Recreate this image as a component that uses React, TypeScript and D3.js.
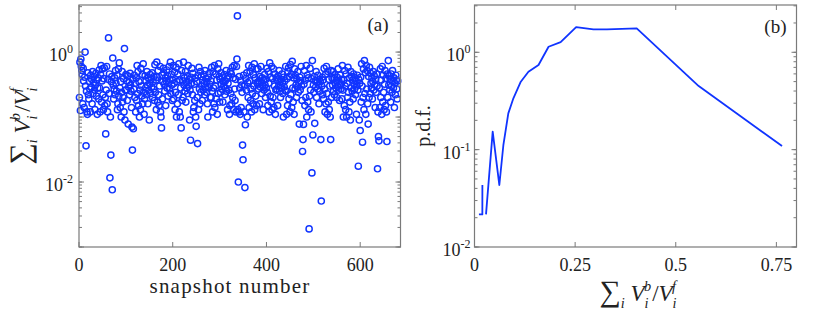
import React from 'react';
import * as d3 from 'd3';

// panel (a): ratio per snapshot, snapshot = index + 1
const snapshotRatio = [
  0.2, 0.7, 0.126, 0.78, 0.6, 0.52, 0.45, 0.16, 0.56, 0.36, 0.14, 0.41, 1.0, 0.3, 0.036, 0.25, 0.12, 0.11, 0.48, 0.22,
  0.19, 0.35, 0.27, 0.12, 0.44, 0.29, 0.38, 0.16, 0.5, 0.23, 0.34, 0.42, 0.26, 0.13, 0.31, 0.47, 0.21, 0.37, 0.11, 0.28,
  0.4, 0.19, 0.53, 0.28, 0.12, 0.45, 0.62, 0.17, 0.36, 0.55, 0.22, 0.13, 0.39, 0.57, 0.15, 0.2, 0.055, 0.26, 0.6, 0.16,
  0.12, 0.38, 1.65, 0.23, 0.46, 0.0116, 0.1, 0.026, 0.35, 0.42, 0.0076, 0.81, 0.31, 0.19, 0.27, 0.4, 0.22, 0.52, 0.33, 0.25,
  0.44, 0.13, 0.16, 0.55, 0.21, 0.68, 0.28, 0.14, 0.35, 0.1, 0.24, 0.5, 0.17, 0.2, 0.39, 0.12, 1.13, 0.09, 0.26, 0.45,
  0.26, 0.36, 0.18, 0.43, 0.078, 0.29, 0.34, 0.22, 0.47, 0.31, 0.25, 0.14, 0.07, 0.031, 0.38, 0.066, 0.27, 0.44, 0.2, 0.33,
  0.12, 0.4, 0.18, 0.62, 0.23, 0.5, 0.15, 0.35, 0.1, 0.26, 0.13, 0.56, 0.3, 0.21, 0.45, 0.16, 0.66, 0.24, 0.11, 0.19,
  0.43, 0.28, 0.36, 0.22, 0.5, 0.31, 0.16, 0.4, 0.26, 0.09, 0.33, 0.45, 0.23, 0.38, 0.29, 0.48, 0.2, 0.35, 0.27, 0.42,
  0.18, 0.64, 0.24, 0.37, 0.13, 0.7, 0.41, 0.17, 0.52, 0.22, 0.15, 0.3, 0.6, 0.12, 0.1, 0.068, 0.44, 0.19, 0.35, 0.56,
  0.48, 0.32, 0.25, 0.4, 0.15, 0.36, 0.53, 0.28, 0.43, 0.21, 0.34, 0.6, 0.27, 0.38, 0.7, 0.23, 0.45, 0.31, 0.18, 0.37,
  0.62, 0.19, 0.33, 0.49, 0.13, 0.24, 0.58, 0.1, 0.35, 0.16, 0.46, 0.22, 0.66, 0.12, 0.37, 0.1, 0.28, 0.068, 0.52, 0.18,
  0.36, 0.2, 0.7, 0.31, 0.4, 0.25, 0.5, 0.17, 0.34, 0.28, 0.43, 0.23, 0.62, 0.3, 0.38, 0.09, 0.26, 0.044, 0.41, 0.33,
  0.56, 0.22, 0.47, 0.12, 0.14, 0.32, 0.18, 0.4, 0.1, 0.072, 0.35, 0.2, 0.039, 0.44, 0.13, 0.58, 0.27, 0.16, 0.5, 0.24,
  0.42, 0.3, 0.18, 0.37, 0.26, 0.45, 0.33, 0.22, 0.52, 0.29, 0.39, 0.24, 0.35, 0.16, 0.1, 0.41, 0.28, 0.47, 0.32, 0.2,
  0.36, 0.2, 0.58, 0.25, 0.12, 0.5, 0.28, 0.16, 0.62, 0.14, 0.3, 0.46, 0.19, 0.37, 0.11, 0.55, 0.23, 0.66, 0.42, 0.17,
  0.38, 0.24, 0.48, 0.32, 0.27, 0.41, 0.17, 0.35, 0.3, 0.45, 0.22, 0.36, 0.28, 0.52, 0.25, 0.39, 0.13, 0.33, 0.43, 0.26,
  0.11, 0.15, 0.5, 0.23, 0.46, 0.16, 0.58, 0.2, 0.4, 0.13, 0.62, 0.27, 0.18, 0.38, 0.12, 0.6, 0.78, 3.6, 0.13, 0.01,
  0.12, 0.42, 0.28, 0.11, 0.36, 0.14, 0.31, 0.24, 0.037, 0.022, 0.44, 0.12, 0.3, 0.0082, 0.076, 0.39, 0.26, 0.48, 0.1, 0.34,
  0.2, 0.62, 0.14, 0.36, 0.5, 0.18, 0.27, 0.12, 0.58, 0.23, 0.16, 0.45, 0.3, 0.66, 0.13, 0.4, 0.21, 0.55, 0.15, 0.34,
  0.32, 0.55, 0.27, 0.36, 0.16, 0.42, 0.29, 0.6, 0.34, 0.23, 0.4, 0.3, 0.13, 0.37, 0.26, 0.45, 0.31, 0.2, 0.38, 0.28,
  0.56, 0.24, 0.15, 0.5, 0.33, 0.12, 0.68, 0.21, 0.41, 0.17, 0.6, 0.13, 0.39, 0.2, 0.55, 0.14, 0.3, 0.46, 0.11, 0.26,
  0.4, 0.27, 0.37, 0.15, 0.43, 0.3, 0.52, 0.25, 0.35, 0.2, 0.38, 0.28, 0.46, 0.33, 0.23, 0.1, 0.41, 0.29, 0.36, 0.26,
  0.6, 0.25, 0.11, 0.39, 0.15, 0.5, 0.57, 0.19, 0.42, 0.12, 0.64, 0.22, 0.45, 0.14, 0.72, 0.28, 0.17, 0.4, 0.11, 0.55,
  0.27, 0.44, 0.31, 0.2, 0.38, 0.29, 0.5, 0.24, 0.34, 0.078, 0.41, 0.26, 0.36, 0.6, 0.3, 0.18, 0.0295, 0.045, 0.077, 0.32,
  0.52, 0.15, 0.37, 0.2, 0.62, 0.1, 0.44, 0.17, 0.4, 0.13, 0.0019, 0.21, 0.56, 0.26, 0.12, 0.39, 0.0138, 0.74, 0.053, 0.31,
  0.24, 0.42, 0.08, 0.36, 0.29, 0.5, 0.2, 0.34, 0.27, 0.44, 0.31, 0.16, 0.38, 0.25, 0.35, 0.045, 0.0051, 0.3, 0.41, 0.22,
  0.37, 0.19, 0.56, 0.27, 0.12, 0.45, 0.16, 0.6, 0.23, 0.11, 0.5, 0.17, 0.38, 0.13, 0.3, 0.1, 0.045, 0.52, 0.2, 0.4,
  0.31, 0.5, 0.25, 0.39, 0.22, 0.45, 0.33, 0.28, 0.36, 0.2, 0.41, 0.3, 0.55, 0.26, 0.35, 0.18, 0.44, 0.32, 0.27, 0.38,
  0.19, 0.62, 0.26, 0.1, 0.37, 0.15, 0.52, 0.3, 0.13, 0.46, 0.1, 0.33, 0.2, 0.58, 0.24, 0.12, 0.4, 0.17, 0.09, 0.5,
  0.28, 0.42, 0.25, 0.37, 0.19, 0.46, 0.32, 0.27, 0.4, 0.22, 0.35, 0.11, 0.3, 0.44, 0.26, 0.0175, 0.38, 0.09, 0.33, 0.062,
  0.41, 0.17, 0.66, 0.3, 0.041, 0.2, 0.55, 0.13, 0.74, 0.23, 0.48, 0.11, 0.62, 0.27, 0.52, 0.16, 0.078, 0.42, 0.2, 0.58,
  0.23, 0.47, 0.33, 0.28, 0.4, 0.19, 0.35, 0.5, 0.26, 0.43, 0.31, 0.14, 0.38, 0.24, 0.46, 0.3, 0.016, 0.12, 0.05, 0.043,
  0.28, 0.14, 0.55, 0.2, 0.37, 0.11, 0.6, 0.17, 0.44, 0.24, 0.13, 0.32, 0.52, 0.15, 0.39, 0.12, 0.042, 0.46, 0.2, 0.74,
  0.31, 0.43, 0.26, 0.38, 0.17, 0.46, 0.3, 0.24, 0.52, 0.35, 0.28, 0.4, 0.14, 0.33, 0.22, 0.44, 0.37, 0.27, 0.19, 0.36,
];

// panel (b): p.d.f., a 0 means an empty bin (gap on the log axis)
const pdfX = [0.011, 0.0195, 0.0196, 0.024, 0.0286, 0.0452, 0.0617, 0.0717, 0.084, 0.0966, 0.115, 0.134, 0.159, 0.184, 0.214, 0.2525, 0.2955, 0.329, 0.403, 0.557, 0.764];
const pdfY = [0.0216, 0.0216, 0.0433, 0, 0.0216, 0.153, 0.0433, 0.111, 0.236, 0.337, 0.499, 0.632, 0.74, 1.14, 1.27, 1.81, 1.72, 1.72, 1.76, 0.45, 0.109];

const xTicksA = [0, 200, 400, 600];
const yMajorA = [1e-3, 1e-2, 1e-1, 1];
const yLabelsA = [-2, 0];
const xTicksB = [0, 0.25, 0.5, 0.75];
const xTickLabelsB = ['0', '0.25', '0.5', '0.75'];
const yMajorB = [1e-2, 1e-1, 1];
const yLabelsB = [-2, -1, 0];

const BLUE = '#1034ff';
const AXIS = '#7a7a7a';
const FONT = '"Liberation Serif", "Times New Roman", "DejaVu Serif", serif';

function minorTicks(lo: number, hi: number) {
  const out: number[] = [];
  for (let e = Math.floor(Math.log10(lo)); e < Math.ceil(Math.log10(hi)); e++) {
    for (let k = 1; k < 10; k++) {
      const v = k * Math.pow(10, e);
      if (v >= lo && v <= hi) out.push(v);
    }
  }
  return out;
}

function MathLabel({ size }: { size: number }) {
  const s = size * 0.62;
  return (
    <>
      <tspan fontSize={size * 1.3}>∑</tspan>
      <tspan fontSize={s} fontStyle="italic" dy={size * 0.3}>i</tspan>
      <tspan fontStyle="italic" dy={-size * 0.3} dx={size * 0.25}>V</tspan>
      <tspan fontSize={s} fontStyle="italic" dy={size * 0.3}>i</tspan>
      <tspan fontSize={s} fontStyle="italic" dy={-size * 0.72} dx={-size * 0.2}>b</tspan>
      <tspan dy={size * 0.42} dx={size * 0.05}>/</tspan>
      <tspan fontStyle="italic">V</tspan>
      <tspan fontSize={s} fontStyle="italic" dy={size * 0.3}>i</tspan>
      <tspan fontSize={s} fontStyle="italic" dy={-size * 0.72} dx={-size * 0.2}>f</tspan>
    </>
  );
}

type Frame = { x0: number; x1: number; y0: number; y1: number };

function Box({ f, xs, ys, xScale, yScale, minor }: any) {
  const maj = 5;
  const mnr = 3;
  return (
    <g stroke={AXIS} strokeWidth={1} fill="none">
      {xs.map((v: number) => {
        const x = xScale(v);
        return (
          <g key={'x' + v}>
            <line x1={x} x2={x} y1={f.y1} y2={f.y1 - maj} />
            <line x1={x} x2={x} y1={f.y0} y2={f.y0 + maj} />
          </g>
        );
      })}
      {ys.map((v: number) => {
        const y = yScale(v);
        return (
          <g key={'y' + v}>
            <line x1={f.x0} x2={f.x0 + maj} y1={y} y2={y} />
            <line x1={f.x1} x2={f.x1 - maj} y1={y} y2={y} />
          </g>
        );
      })}
      {minor.map((v: number, i: number) => {
        const y = yScale(v);
        return (
          <g key={'m' + i}>
            <line x1={f.x0} x2={f.x0 + mnr} y1={y} y2={y} />
            <line x1={f.x1} x2={f.x1 - mnr} y1={y} y2={y} />
          </g>
        );
      })}
      <rect x={f.x0} y={f.y0} width={f.x1 - f.x0} height={f.y1 - f.y0} strokeWidth={1.2} />
    </g>
  );
}

export default function App() {
  const fa: Frame = { x0: 79, x1: 400.5, y0: 5, y1: 247 };
  const fb: Frame = { x0: 474.5, x1: 796.5, y0: 5, y1: 247 };

  const xa = d3.scaleLinear().domain([0, 686]).range([fa.x0, fa.x1]);
  const ya = d3.scaleLog().domain([1e-3, 5.3]).range([fa.y1, fa.y0]);
  const xb = d3.scaleLinear().domain([0, 0.8]).range([fb.x0, fb.x1]);
  const yb = d3.scaleLog().domain([1e-2, 3.06]).range([fb.y1, fb.y0]);

  const pdf = pdfX.map((x, i) => ({ x, y: pdfY[i] }));
  const line = d3
    .line<{ x: number; y: number }>()
    .defined((d) => d.y > 0)
    .x((d) => xb(d.x))
    .y((d) => yb(d.y));

  const tickSize = 18;
  const supSize = 12;

  return (
    <svg width={814} height={314} style={{ position: 'absolute', left: 0, top: 0, background: '#fff' }}>
      {/* panel (a) */}
      <g>
        {snapshotRatio.map((v, i) => (
          <circle key={i} cx={xa(i + 1)} cy={ya(v)} r={3.1} fill="none" stroke={BLUE} strokeWidth={1.45} />
        ))}
      </g>
      <Box f={fa} xs={xTicksA} ys={yMajorA} xScale={xa} yScale={ya} minor={minorTicks(1e-3, 5.3)} />
      <g fontSize={tickSize} fill="#222" fontFamily={FONT}>
        {xTicksA.map((v) => (
          <text key={v} x={xa(v)} y={271} textAnchor="middle">{v}</text>
        ))}
        {yLabelsA.map((e) => (
          <text key={e} x={fa.x0 - 6} y={ya(Math.pow(10, e)) + 9} textAnchor="end">
            10<tspan fontSize={supSize} dy={-8}>{e}</tspan>
          </text>
        ))}
        <text x={230} y={293} textAnchor="middle" fontSize={21} letterSpacing={1.2}>snapshot number</text>
        <text x={fa.x1 - 12} y={31} textAnchor="end" fontSize={19}>(a)</text>
        <text transform={`translate(30,${(fa.y0 + fa.y1) / 2}) rotate(-90)`} textAnchor="middle" fontSize={23}>
          <MathLabel size={23} />
        </text>
      </g>

      {/* panel (b) */}
      <path d={line(pdf) || ''} fill="none" stroke={BLUE} strokeWidth={1.8} strokeLinejoin="round" />
      <Box f={fb} xs={xTicksB} ys={yMajorB} xScale={xb} yScale={yb} minor={minorTicks(1e-2, 3.06)} />
      <g fontSize={tickSize} fill="#222" fontFamily={FONT}>
        {xTicksB.map((v, i) => (
          <text key={v} x={xb(v)} y={271} textAnchor="middle">{xTickLabelsB[i]}</text>
        ))}
        {yLabelsB.map((e) => (
          <text key={e} x={fb.x0 - 4} y={yb(Math.pow(10, e)) + 9} textAnchor="end">
            10<tspan fontSize={supSize} dy={-8}>{e}</tspan>
          </text>
        ))}
        <text x={638} y={301} textAnchor="middle" fontSize={23}>
          <MathLabel size={23} />
        </text>
        <text x={fb.x1 - 10} y={33} textAnchor="end" fontSize={19}>(b)</text>
        <text transform={`translate(430,${(fb.y0 + fb.y1) / 2}) rotate(-90)`} textAnchor="middle" fontSize={20}>p.d.f.</text>
      </g>
    </svg>
  );
}
